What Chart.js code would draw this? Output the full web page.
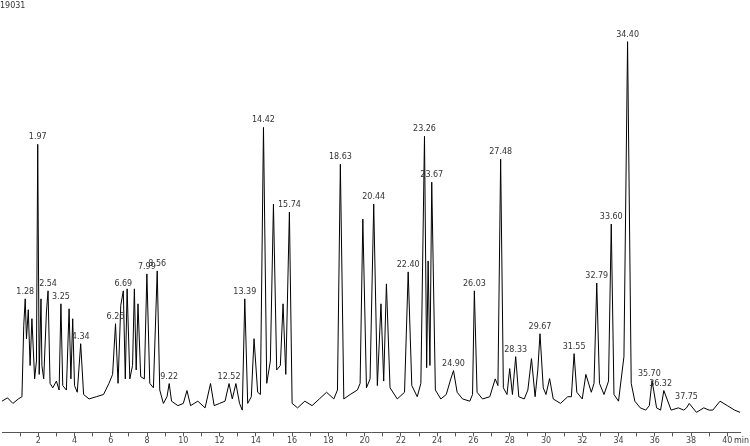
<!DOCTYPE html>
<html>
<head>
<meta charset="utf-8">
<script src="https://cdn.jsdelivr.net/npm/chart.js@4/dist/chart.umd.min.js"></script>
<style>
  body { margin: 0; background: #fff; }
  #wrap { width: 750px; height: 446px; position: relative; }
</style>
</head>
<body>
<div id="wrap"><canvas id="chrom"></canvas></div>
<script>
// retention time (min) and detector signal
const times = [
  0.0, 0.3, 0.6, 0.9, 1.1, 1.2, 1.28, 1.35, 1.45, 1.55, 1.65, 1.8, 1.9, 1.97, 2.05, 2.15, 2.2, 2.3, 2.45, 2.54, 2.65, 2.8, 3.0, 3.15, 3.25, 3.35, 3.55, 3.7, 3.8, 3.9, 4.0, 4.15, 4.34, 4.5, 4.8, 5.2, 5.6, 5.9, 6.1, 6.26, 6.4, 6.55, 6.69, 6.8, 6.9, 7.05, 7.2, 7.3, 7.4, 7.5, 7.65, 7.85, 7.99, 8.15, 8.35, 8.56, 8.7, 8.9, 9.1, 9.22, 9.35, 9.7, 10.0, 10.2, 10.4, 10.8, 11.2, 11.5, 11.7, 12.0, 12.3, 12.52, 12.7, 12.9, 13.1, 13.25, 13.39, 13.55, 13.75, 13.9, 14.1, 14.25, 14.42, 14.6, 14.8, 14.97, 15.15, 15.35, 15.5, 15.65, 15.85, 16.0, 16.3, 16.7, 17.1, 17.5, 17.9, 18.3, 18.5, 18.66, 18.85, 19.2, 19.6, 19.75, 19.9, 20.1, 20.3, 20.5, 20.7, 20.9, 21.05, 21.2, 21.4, 21.8, 22.2, 22.4, 22.6, 22.9, 23.1, 23.3, 23.42, 23.5, 23.6, 23.7, 23.9, 24.2, 24.5, 24.75, 24.9, 25.1, 25.4, 25.8, 25.95, 26.05, 26.2, 26.5, 26.9, 27.2, 27.35, 27.5, 27.65, 27.85, 28.0, 28.15, 28.33, 28.5, 28.8, 29.0, 29.2, 29.4, 29.55, 29.67, 29.85, 30.0, 30.2, 30.4, 30.8, 31.2, 31.4, 31.55, 31.7, 32.0, 32.2, 32.5, 32.65, 32.8, 32.95, 33.2, 33.45, 33.6, 33.75, 34.0, 34.3, 34.5, 34.7, 34.9, 35.2, 35.5, 35.7, 35.85, 36.1, 36.32, 36.5, 36.9, 37.3, 37.6, 37.75, 37.9, 38.3, 38.7, 39.0, 39.2, 39.6, 40.0, 40.4, 40.7
];
const signal = [
  1400, 1550, 1300, 1500, 1600, 4800, 5990, 4200, 5500, 3000, 5100, 2400, 3200, 12918, 2600, 5990, 3000, 2400, 5400, 6347, 2200, 2000, 2300, 1900, 5766, 2100, 1900, 5543, 2400, 5096, 2100, 1800, 3978, 1700, 1500, 1600, 1700, 2200, 2600, 4872, 2200, 5700, 6347, 2400, 6437, 2400, 3000, 6437, 2800, 5766, 2500, 2400, 7107, 2200, 2000, 7241, 1900, 1300, 1600, 2190, 1400, 1200, 1300, 1878, 1200, 1400, 1100, 2190, 1200, 1300, 1400, 2190, 1500, 2190, 1300, 1000, 5990, 1300, 1600, 4202, 1800, 1700, 13678, 2200, 3200, 10236, 2800, 3000, 5766, 2600, 9879, 1300, 1100, 1400, 1200, 1500, 1800, 1500, 1900, 12024, 1500, 1700, 1900, 2200, 9566, 2000, 2400, 10236, 2100, 5766, 2300, 6660, 2000, 1500, 1800, 7197, 2100, 1600, 2200, 13276, 2900, 7688, 3000, 11220, 1900, 1500, 1700, 2400, 2771, 1800, 1500, 1400, 1700, 6347, 1800, 1500, 1600, 2400, 2100, 12248, 2000, 1700, 2861, 1700, 3397, 1600, 1500, 1900, 3308, 1600, 2800, 4425, 2000, 1700, 2414, 1500, 1300, 1600, 1600, 3531, 1800, 1500, 2600, 1800, 2200, 6700, 2200, 1700, 2300, 9342, 1700, 1400, 3400, 17522, 2200, 1400, 1100, 1000, 1200, 2324, 1100, 1000, 1878, 1000, 1100, 1000, 1100, 1296, 900, 1100, 1000, 1000, 1400, 1200, 1000, 900, 900
];
// peak annotations: label text, retention time, signal at apex
const peakLabels = ["1.28", "1.97", "2.54", "3.25", "4.34", "6.26", "6.69", "7.99", "8.56", "9.22", "12.52", "13.39", "14.42", "15.74", "18.63", "20.44", "22.40", "23.26", "23.67", "24.90", "26.03", "27.48", "28.33", "29.67", "31.55", "32.79", "33.60", "34.40", "35.70", "36.32", "37.75"];
const peakTimes = [1.28, 1.97, 2.54, 3.25, 4.34, 6.26, 6.69, 7.99, 8.56, 9.22, 12.52, 13.39, 14.42, 15.85, 18.66, 20.5, 22.4, 23.3, 23.7, 24.9, 26.05, 27.5, 28.33, 29.67, 31.55, 32.8, 33.6, 34.5, 35.7, 36.32, 37.75];
const peakHeights = [5990, 12918, 6347, 5766, 3978, 4872, 6347, 7107, 7241, 2190, 2190, 5990, 13678, 9879, 12024, 10236, 7197, 13276, 11220, 2771, 6347, 12248, 3397, 4425, 3531, 6700, 9342, 17522, 2324, 1878, 1296];
const yMax = 19031;

const points = times.map((t, i) => ({ x: t, y: signal[i] }));

const annotate = {
  id: "annotate",
  afterDatasetsDraw(chart) {
    const { ctx, scales } = chart;
    ctx.save();
    ctx.fillStyle = "#333";
    ctx.font = "8px 'DejaVu Sans', sans-serif";
    ctx.textAlign = "center";
    ctx.textBaseline = "bottom";
    peakLabels.forEach((txt, i) => {
      const x = scales.x.getPixelForValue(peakTimes[i]);
      const y = scales.y.getPixelForValue(peakHeights[i]);
      ctx.fillText(txt, x, y - 3);
    });
    ctx.textAlign = "left";
    ctx.textBaseline = "top";
    ctx.fillText(String(yMax), 0, 2);
    ctx.textAlign = "right";
    ctx.fillText("min", chart.width - 1, scales.x.top + 5);
    ctx.restore();
  }
};

new Chart(document.getElementById("chrom"), {
  type: "line",
  data: {
    datasets: [{
      data: points,
      borderColor: "#000",
      borderWidth: 1,
      pointRadius: 0,
      tension: 0
    }]
  },
  options: {
    responsive: true,
    maintainAspectRatio: false,
    animation: false,
    layout: { padding: { left: 2, right: 10, top: 8, bottom: 0 } },
    plugins: { legend: { display: false }, tooltip: { enabled: false } },
    scales: {
      x: {
        type: "linear",
        min: 0,
        max: 40.7,
        afterBuildTicks(axis) {
          const t = [];
          for (let v = 1; v <= 40; v++) t.push({ value: v });
          axis.ticks = t;
        },
        ticks: {
          autoSkip: false,
          maxRotation: 0,
          padding: 0,
          color: "#444",
          font: { size: 8, family: "'DejaVu Sans', sans-serif" },
          callback: v => (v % 2 === 0 ? String(v) : "")
        },
        grid: { drawOnChartArea: false, tickLength: 4, color: "#555" },
        border: { color: "#555" }
      },
      y: {
        display: false,
        min: 0,
        max: yMax
      }
    }
  },
  plugins: [annotate]
});
</script>
</body>
</html>
